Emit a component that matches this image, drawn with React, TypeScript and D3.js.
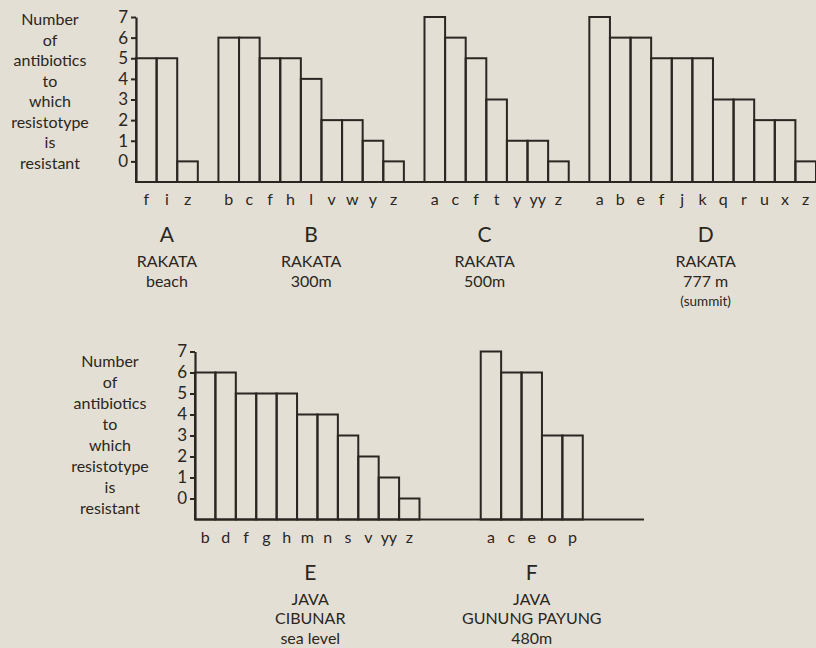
import React, { useEffect, useRef } from 'react';
import * as d3 from 'd3';

// Resistotype bar charts, Rakata / Java soils
const W = 816;
const H = 648;
const INK = '#2a2621';
const PAPER = '#e4dfd4';
const FONT = 'Lato, "Open Sans", sans-serif';

const yTicks = [0, 1, 2, 3, 4, 5, 6, 7];
const yTitle = ['Number', 'of', 'antibiotics', 'to', 'which', 'resistotype', 'is', 'resistant'];

const aKeys = ['f', 'i', 'z'];
const aValues = [5, 5, 0];
const bKeys = ['b', 'c', 'f', 'h', 'l', 'v', 'w', 'y', 'z'];
const bValues = [6, 6, 5, 5, 4, 2, 2, 1, 0];
const cKeys = ['a', 'c', 'f', 't', 'y', 'yy', 'z'];
const cValues = [7, 6, 5, 3, 1, 1, 0];
const dKeys = ['a', 'b', 'e', 'f', 'j', 'k', 'q', 'r', 'u', 'x', 'z'];
const dValues = [7, 6, 6, 5, 5, 5, 3, 3, 2, 2, 0];
const eKeys = ['b', 'd', 'f', 'g', 'h', 'm', 'n', 's', 'v', 'yy', 'z'];
const eValues = [6, 6, 5, 5, 5, 4, 4, 3, 2, 1, 0];
const fKeys = ['a', 'c', 'e', 'o', 'p'];
const fValues = [7, 6, 6, 3, 3];

const groupNames = ['A', 'B', 'C', 'D', 'E', 'F'];
const groupLines = [
  ['RAKATA', 'beach'],
  ['RAKATA', '300m'],
  ['RAKATA', '500m'],
  ['RAKATA', '777 m', '(summit)'],
  ['JAVA', 'CIBUNAR', 'sea level'],
  ['JAVA', 'GUNUNG PAYUNG', '480m'],
];

type Group = { name: string; keys: string[]; values: number[]; lines: string[]; gapAfter: number; shift: number };

const mk = (i: number, keys: string[], values: number[], gapAfter: number, shift = 0): Group => ({
  name: groupNames[i], keys, values, lines: groupLines[i], gapAfter, shift,
});

const topGroups = [mk(0, aKeys, aValues, 1), mk(1, bKeys, bValues, 1), mk(2, cKeys, cValues, 1, -12), mk(3, dKeys, dValues, 0, 3)];
const bottomGroups = [mk(4, eKeys, eValues, 3, 3), mk(5, fKeys, fValues, 3)];

type RowProps = {
  groups: Group[];
  x0: number;
  x1: number;
  yBase: number;
  yTop: number;
  titleX: number;
  titleY: number;
  titleStep: number;
};

const Row = ({ groups, x0, x1, yBase, yTop, titleX, titleY, titleStep }: RowProps) => {
  const axisRef = useRef<SVGGElement>(null);

  // slot ids, gaps included
  const slots: string[] = [];
  groups.forEach((g) => {
    g.keys.forEach((k, i) => slots.push(`${g.name}-${i}`));
    for (let i = 0; i < g.gapAfter; i++) slots.push(`${g.name}-gap${i}`);
  });

  const x = d3.scaleBand<string>().domain(slots).range([x0, x1]).padding(0);
  const y = d3.scaleLinear().domain([-1, 7]).range([yBase, yTop]);
  const bw = x.bandwidth();

  useEffect(() => {
    if (!axisRef.current) return;
    const g = d3.select(axisRef.current);
    g.selectAll('*').remove();
    g.call(d3.axisLeft(y).tickValues(yTicks).tickSize(5).tickSizeOuter(0).tickPadding(3));
    g.select('.domain').attr('stroke', INK).attr('stroke-width', 2.2);
    g.selectAll('.tick line').attr('stroke', INK).attr('stroke-width', 2);
    g.selectAll('.tick text')
      .attr('fill', INK)
      .style('font-family', FONT)
      .style('font-size', '17px');
  }, [x0, yBase, yTop]);

  return (
    <g>
      {yTitle.map((t, i) => (
        <text key={t} x={titleX} y={titleY + i * titleStep} textAnchor="middle" fontSize={16} fill={INK} fontFamily={FONT}>
          {t}
        </text>
      ))}
      {groups.map((g) => {
        const first = x(`${g.name}-0`) as number;
        const last = (x(`${g.name}-${g.keys.length - 1}`) as number) + bw;
        const cx = (first + last) / 2 + g.shift;
        return (
          <g key={g.name}>
            {g.values.map((v, i) => (
              <rect
                key={i}
                x={x(`${g.name}-${i}`)}
                y={y(v)}
                width={bw}
                height={yBase - y(v)}
                fill="none"
                stroke={INK}
                strokeWidth={2}
              />
            ))}
            {g.keys.map((k, i) => (
              <text
                key={'k' + i}
                x={(x(`${g.name}-${i}`) as number) + bw / 2}
                y={yBase + 23}
                textAnchor="middle"
                fontSize={16}
                fill={INK}
                fontFamily={FONT}
              >
                {k}
              </text>
            ))}
            <text x={cx} y={yBase + 60} textAnchor="middle" fontSize={21} fill={INK} fontFamily={FONT}>
              {g.name}
            </text>
            {g.lines.map((l, i) => (
              <text
                key={'l' + i}
                x={cx}
                y={yBase + 85 + i * 19.5}
                textAnchor="middle"
                fontSize={l.startsWith('(') ? 13.5 : 16}
                fill={INK}
                fontFamily={FONT}
              >
                {l}
              </text>
            ))}
          </g>
        );
      })}
      <line x1={x0} x2={x1} y1={yBase} y2={yBase} stroke={INK} strokeWidth={2.2} />
      <g ref={axisRef} transform={`translate(${x0},0)`} />
    </g>
  );
};

export default function App() {
  return (
    <svg width={W} height={H} style={{ position: 'absolute', left: 0, top: 0 }}>
      <rect width={W} height={H} fill={PAPER} />
      <Row groups={topGroups} x0={136} x1={816} yBase={182} yTop={17} titleX={50} titleY={25} titleStep={20.5} />
      <Row groups={bottomGroups} x0={195} x1={644} yBase={519.5} yTop={351.5} titleX={110} titleY={367} titleStep={21} />
    </svg>
  );
}
